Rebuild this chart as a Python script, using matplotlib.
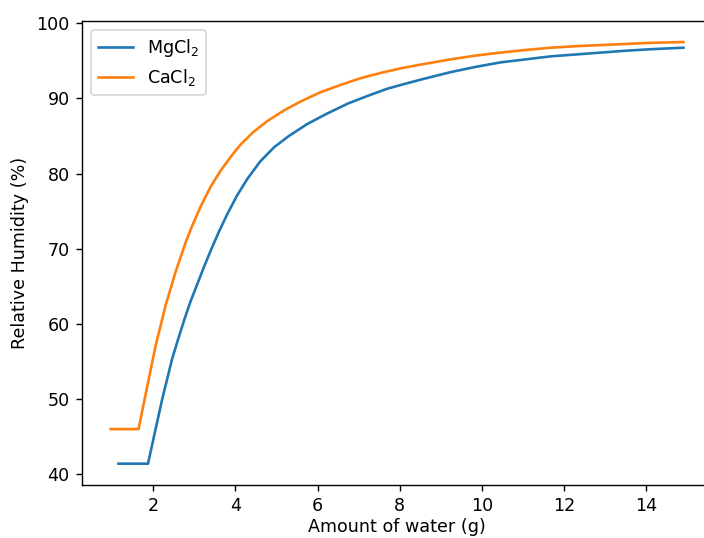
import matplotlib
matplotlib.use("Agg")
import matplotlib.pyplot as plt

# amount of water (g) vs relative humidity (%) for each salt
mg_water = [1.15, 1.87, 2.01, 2.22, 2.46, 2.60, 2.75, 2.90, 3.07, 3.22, 3.40, 3.60,
            3.80, 4.04, 4.29, 4.60, 4.94, 5.30, 5.75, 6.20, 6.73, 7.20, 7.70, 8.10,
            8.51, 9.24, 9.85, 10.46, 11.07, 11.68, 12.29, 12.90, 13.51, 14.12, 14.91]
mg_rh = [41.4, 41.4, 44.9, 50.1, 55.4, 57.9, 60.5, 62.9, 65.3, 67.4, 69.8, 72.3,
         74.6, 77.1, 79.3, 81.6, 83.5, 85.0, 86.6, 87.9, 89.3, 90.3, 91.3, 91.9,
         92.5, 93.5, 94.2, 94.8, 95.2, 95.6, 95.85, 96.1, 96.35, 96.55, 96.75]

ca_water = [0.96, 1.64, 1.81, 2.06, 2.30, 2.54, 2.79, 2.95, 3.15, 3.40, 3.64, 3.88,
            4.13, 4.45, 4.78, 5.18, 5.59, 6.06, 6.56, 7.05, 7.54, 8.02, 8.51, 9.24,
            9.85, 10.46, 11.07, 11.68, 12.29, 12.90, 13.51, 14.12, 14.91]
ca_rh = [46.0, 46.0, 50.6, 57.2, 62.5, 66.9, 70.9, 73.1, 75.6, 78.3, 80.4, 82.2,
         83.9, 85.6, 87.0, 88.4, 89.6, 90.8, 91.8, 92.7, 93.4, 94.0, 94.5, 95.2,
         95.7, 96.1, 96.45, 96.75, 96.95, 97.1, 97.25, 97.4, 97.5]


def main():
    dpi = 126
    fig = plt.figure(figsize=(704 / dpi, 538 / dpi), dpi=dpi)
    # axes run slightly past the right edge of the canvas
    ax = fig.add_axes([0.1165, 0.099, 0.895, 0.862])
    ax.plot(mg_water, mg_rh, label="MgCl$_2$")
    ax.plot(ca_water, ca_rh, label="CaCl$_2$")
    ax.spines['right'].set_visible(False)
    ax.set_xticks([2, 4, 6, 8, 10, 12, 14])
    ax.set_xlabel("Amount of water (g)", labelpad=2)
    ax.set_ylabel("Relative Humidity (%)")
    ax.legend(loc="upper left")
    fig.savefig("out.png", dpi=dpi)


if __name__ == '__main__':
    main()
